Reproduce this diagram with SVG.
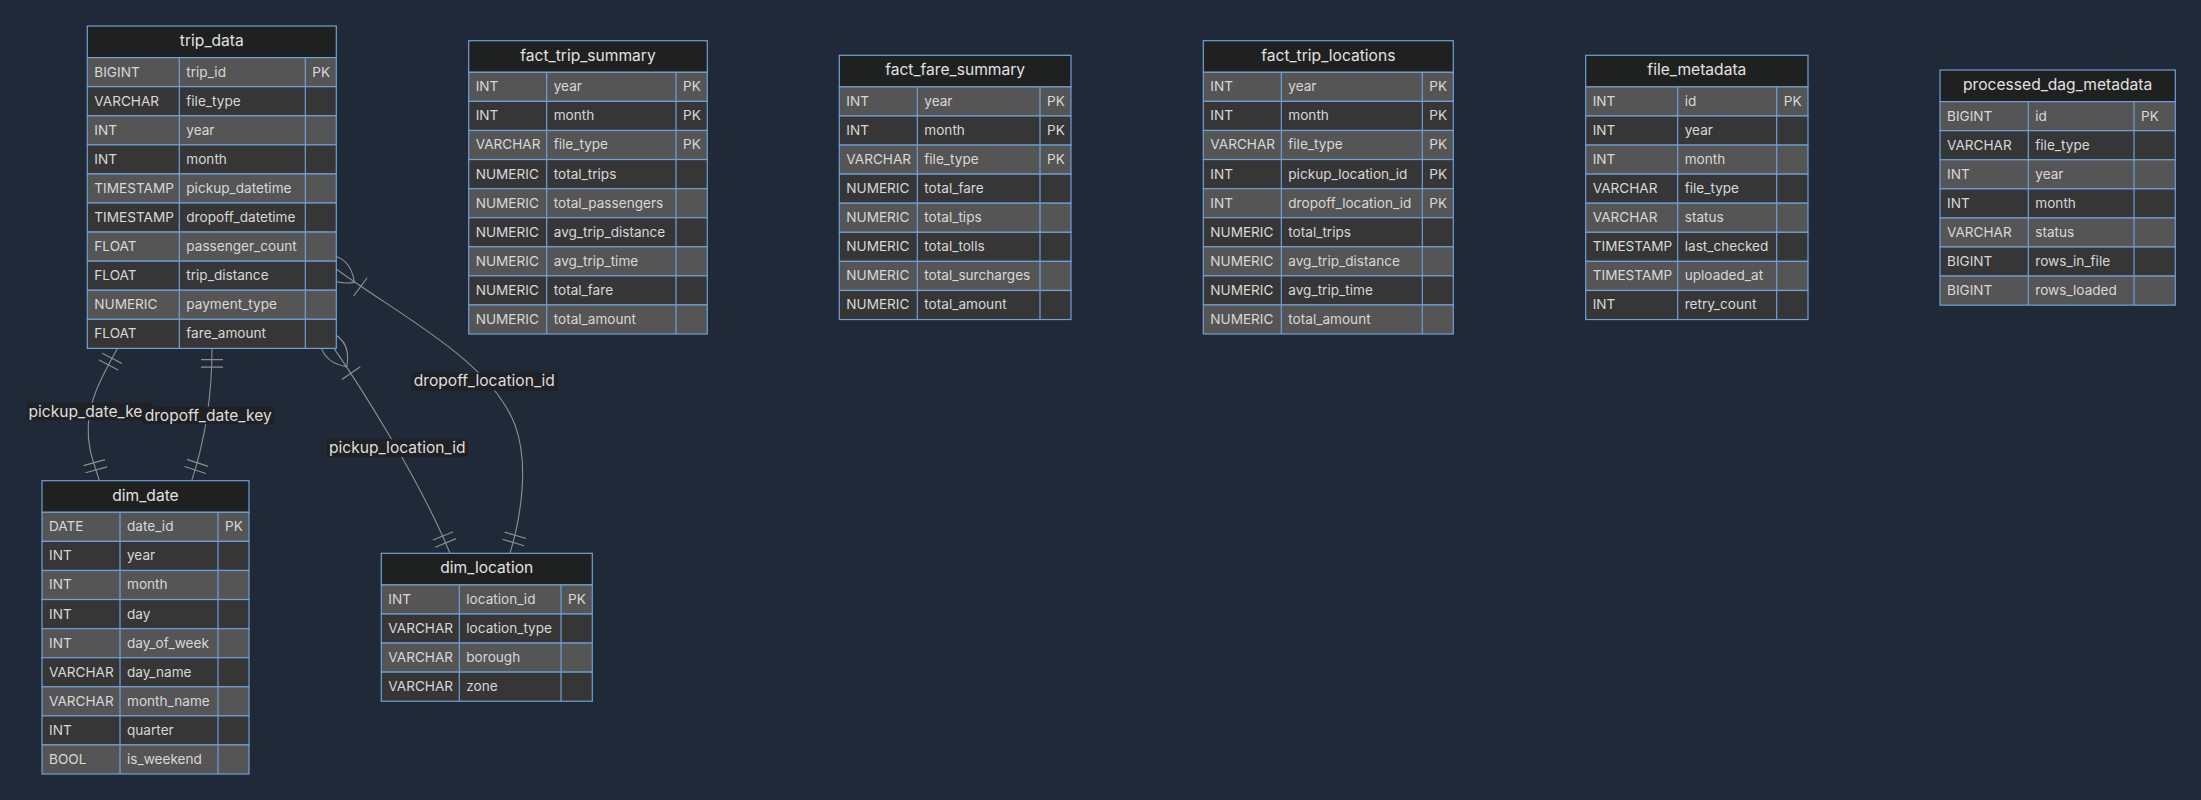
<svg xmlns="http://www.w3.org/2000/svg" width="2201" height="800" viewBox="0 0 2201 800">
<style>
.bg{fill:#1f2937}
.hdr{fill:#1f2020;stroke:#6fa0d8;stroke-width:1.2}
.r1{fill:#555555;stroke:#6fa0d8;stroke-width:1.2}
.r2{fill:#363636;stroke:#6fa0d8;stroke-width:1.2}
.ln{fill:none;stroke:#6fa0d8;stroke-width:1.2}
.t{font-family:Inter,"Noto Sans","Liberation Sans",sans-serif;font-size:13.6px;fill:#d8d8d8}
.h{font-family:Inter,"Noto Sans","Liberation Sans",sans-serif;font-size:15.6px;fill:#e2e2e2;text-anchor:middle}
.edge{fill:none;stroke:#8f8f8f;stroke-width:1.1}
.mk{fill:none;stroke:#8f8f8f;stroke-width:0.9}
.lbg{fill:#1f2124}
.lbl{font-family:Inter,"Noto Sans","Liberation Sans",sans-serif;font-size:15.6px;fill:#dedede;text-anchor:middle}
</style>
<defs>
<marker id="oneOrMoreStart" markerUnits="userSpaceOnUse" viewBox="0 0 45 36" refX="18" refY="18" markerWidth="56.25" markerHeight="45" orient="auto"><path class="mk" d="M0,18 Q18,0 36,18 Q18,36 0,18 M42,9 L42,27"/></marker>
<marker id="onlyOneStart" markerUnits="userSpaceOnUse" viewBox="0 0 18 18" refX="0" refY="9" markerWidth="22.5" markerHeight="22.5" orient="auto"><path class="mk" d="M9,0 L9,18 M15,0 L15,18"/></marker>
<marker id="onlyOneEnd" markerUnits="userSpaceOnUse" viewBox="0 0 18 18" refX="18" refY="9" markerWidth="22.5" markerHeight="22.5" orient="auto"><path class="mk" d="M3,0 L3,18 M9,0 L9,18"/></marker>
</defs>
<rect class="bg" x="0" y="0" width="2201" height="800"/>

<g id="connectors">
<path class="edge" d="M117.3,348.4 C105,372 90,395 88.3,425 C87,450 95,465 99.3,480.7" marker-start="url(#onlyOneStart)" marker-end="url(#onlyOneEnd)"/>
<path class="edge" d="M212,348.4 C212,400 205,440 191.7,480.7" marker-start="url(#onlyOneStart)" marker-end="url(#onlyOneEnd)"/>
<path class="edge" d="M334,348.4 C360,386 420,480 450,553.3" marker-start="url(#oneOrMoreStart)" marker-end="url(#onlyOneEnd)"/>
<path class="edge" d="M336.3,269 C400,316 490,360 515,425 C530,465 520,520 510,553.3" marker-start="url(#oneOrMoreStart)" marker-end="url(#onlyOneEnd)"/>
<rect class="lbg" x="26.7" y="402.7" width="126" height="17.5"/>
<text class="lbl" x="89.7" y="416.6">pickup_date_key</text>
<rect class="lbg" x="142.3" y="406.7" width="131.7" height="17.5"/>
<text class="lbl" x="208.2" y="420.8">dropoff_date_key</text>
<rect class="lbg" x="326.7" y="439.3" width="141" height="17.5"/>
<text class="lbl" x="397.2" y="452.6">pickup_location_id</text>
<rect class="lbg" x="411" y="372.7" width="146.7" height="18"/>
<text class="lbl" x="484.3" y="386.3">dropoff_location_id</text>
</g>

<g id="trip_data" transform="translate(87.3,26)">
<rect class="hdr" x="0" y="0" width="249" height="31.6"/>
<text class="h" x="124.5" y="20">trip_data</text>
<rect class="r1" x="0" y="31.6" width="249" height="29.08"/>
<rect class="r2" x="0" y="60.68" width="249" height="29.08"/>
<rect class="r1" x="0" y="89.76" width="249" height="29.08"/>
<rect class="r2" x="0" y="118.84" width="249" height="29.08"/>
<rect class="r1" x="0" y="147.92" width="249" height="29.08"/>
<rect class="r2" x="0" y="177" width="249" height="29.08"/>
<rect class="r1" x="0" y="206.08" width="249" height="29.08"/>
<rect class="r2" x="0" y="235.16" width="249" height="29.08"/>
<rect class="r1" x="0" y="264.24" width="249" height="29.08"/>
<rect class="r2" x="0" y="293.32" width="249" height="29.08"/>
<path class="ln" d="M92,31.6 V322.4 M218,31.6 V322.4"/>
<text class="t" x="7" y="50.6">BIGINT</text><text class="t" x="99" y="50.6">trip_id</text><text class="t" x="225" y="50.6">PK</text>
<text class="t" x="7" y="79.68">VARCHAR</text><text class="t" x="99" y="79.68">file_type</text>
<text class="t" x="7" y="108.76">INT</text><text class="t" x="99" y="108.76">year</text>
<text class="t" x="7" y="137.84">INT</text><text class="t" x="99" y="137.84">month</text>
<text class="t" x="7" y="166.92">TIMESTAMP</text><text class="t" x="99" y="166.92">pickup_datetime</text>
<text class="t" x="7" y="196">TIMESTAMP</text><text class="t" x="99" y="196">dropoff_datetime</text>
<text class="t" x="7" y="225.08">FLOAT</text><text class="t" x="99" y="225.08">passenger_count</text>
<text class="t" x="7" y="254.16">FLOAT</text><text class="t" x="99" y="254.16">trip_distance</text>
<text class="t" x="7" y="283.24">NUMERIC</text><text class="t" x="99" y="283.24">payment_type</text>
<text class="t" x="7" y="312.32">FLOAT</text><text class="t" x="99" y="312.32">fare_amount</text>
</g>

<g id="dim_date" transform="translate(42,480.7)">
<rect class="hdr" x="0" y="0" width="207" height="31.6"/>
<text class="h" x="103.5" y="20">dim_date</text>
<rect class="r1" x="0" y="31.6" width="207" height="29.08"/>
<rect class="r2" x="0" y="60.68" width="207" height="29.08"/>
<rect class="r1" x="0" y="89.76" width="207" height="29.08"/>
<rect class="r2" x="0" y="118.84" width="207" height="29.08"/>
<rect class="r1" x="0" y="147.92" width="207" height="29.08"/>
<rect class="r2" x="0" y="177" width="207" height="29.08"/>
<rect class="r1" x="0" y="206.08" width="207" height="29.08"/>
<rect class="r2" x="0" y="235.16" width="207" height="29.08"/>
<rect class="r1" x="0" y="264.24" width="207" height="29.08"/>
<path class="ln" d="M78,31.6 V293.32 M176,31.6 V293.32"/>
<text class="t" x="7" y="50.6">DATE</text><text class="t" x="85" y="50.6">date_id</text><text class="t" x="183" y="50.6">PK</text>
<text class="t" x="7" y="79.68">INT</text><text class="t" x="85" y="79.68">year</text>
<text class="t" x="7" y="108.76">INT</text><text class="t" x="85" y="108.76">month</text>
<text class="t" x="7" y="137.84">INT</text><text class="t" x="85" y="137.84">day</text>
<text class="t" x="7" y="166.92">INT</text><text class="t" x="85" y="166.92">day_of_week</text>
<text class="t" x="7" y="196">VARCHAR</text><text class="t" x="85" y="196">day_name</text>
<text class="t" x="7" y="225.08">VARCHAR</text><text class="t" x="85" y="225.08">month_name</text>
<text class="t" x="7" y="254.16">INT</text><text class="t" x="85" y="254.16">quarter</text>
<text class="t" x="7" y="283.24">BOOL</text><text class="t" x="85" y="283.24">is_weekend</text>
</g>

<g id="dim_location" transform="translate(381.3,553.3)">
<rect class="hdr" x="0" y="0" width="211" height="31.6"/>
<text class="h" x="105.5" y="20">dim_location</text>
<rect class="r1" x="0" y="31.6" width="211" height="29.08"/>
<rect class="r2" x="0" y="60.68" width="211" height="29.08"/>
<rect class="r1" x="0" y="89.76" width="211" height="29.08"/>
<rect class="r2" x="0" y="118.84" width="211" height="29.08"/>
<path class="ln" d="M78,31.6 V147.92 M179.7,31.6 V147.92"/>
<text class="t" x="7" y="50.6">INT</text><text class="t" x="85" y="50.6">location_id</text><text class="t" x="186.7" y="50.6">PK</text>
<text class="t" x="7" y="79.68">VARCHAR</text><text class="t" x="85" y="79.68">location_type</text>
<text class="t" x="7" y="108.76">VARCHAR</text><text class="t" x="85" y="108.76">borough</text>
<text class="t" x="7" y="137.84">VARCHAR</text><text class="t" x="85" y="137.84">zone</text>
</g>

<g id="fact_trip_summary" transform="translate(468.7,40.7)">
<rect class="hdr" x="0" y="0" width="238.6" height="31.6"/>
<text class="h" x="119.3" y="20">fact_trip_summary</text>
<rect class="r1" x="0" y="31.6" width="238.6" height="29.08"/>
<rect class="r2" x="0" y="60.68" width="238.6" height="29.08"/>
<rect class="r1" x="0" y="89.76" width="238.6" height="29.08"/>
<rect class="r2" x="0" y="118.84" width="238.6" height="29.08"/>
<rect class="r1" x="0" y="147.92" width="238.6" height="29.08"/>
<rect class="r2" x="0" y="177" width="238.6" height="29.08"/>
<rect class="r1" x="0" y="206.08" width="238.6" height="29.08"/>
<rect class="r2" x="0" y="235.16" width="238.6" height="29.08"/>
<rect class="r1" x="0" y="264.24" width="238.6" height="29.08"/>
<path class="ln" d="M78,31.6 V293.32 M207.3,31.6 V293.32"/>
<text class="t" x="7" y="50.6">INT</text><text class="t" x="85" y="50.6">year</text><text class="t" x="214.3" y="50.6">PK</text>
<text class="t" x="7" y="79.68">INT</text><text class="t" x="85" y="79.68">month</text><text class="t" x="214.3" y="79.68">PK</text>
<text class="t" x="7" y="108.76">VARCHAR</text><text class="t" x="85" y="108.76">file_type</text><text class="t" x="214.3" y="108.76">PK</text>
<text class="t" x="7" y="137.84">NUMERIC</text><text class="t" x="85" y="137.84">total_trips</text>
<text class="t" x="7" y="166.92">NUMERIC</text><text class="t" x="85" y="166.92">total_passengers</text>
<text class="t" x="7" y="196">NUMERIC</text><text class="t" x="85" y="196">avg_trip_distance</text>
<text class="t" x="7" y="225.08">NUMERIC</text><text class="t" x="85" y="225.08">avg_trip_time</text>
<text class="t" x="7" y="254.16">NUMERIC</text><text class="t" x="85" y="254.16">total_fare</text>
<text class="t" x="7" y="283.24">NUMERIC</text><text class="t" x="85" y="283.24">total_amount</text>
</g>

<g id="fact_fare_summary" transform="translate(839.3,55.3)">
<rect class="hdr" x="0" y="0" width="231.7" height="31.6"/>
<text class="h" x="115.85" y="20">fact_fare_summary</text>
<rect class="r1" x="0" y="31.6" width="231.7" height="29.08"/>
<rect class="r2" x="0" y="60.68" width="231.7" height="29.08"/>
<rect class="r1" x="0" y="89.76" width="231.7" height="29.08"/>
<rect class="r2" x="0" y="118.84" width="231.7" height="29.08"/>
<rect class="r1" x="0" y="147.92" width="231.7" height="29.08"/>
<rect class="r2" x="0" y="177" width="231.7" height="29.08"/>
<rect class="r1" x="0" y="206.08" width="231.7" height="29.08"/>
<rect class="r2" x="0" y="235.16" width="231.7" height="29.08"/>
<path class="ln" d="M78,31.6 V264.24 M200.7,31.6 V264.24"/>
<text class="t" x="7" y="50.6">INT</text><text class="t" x="85" y="50.6">year</text><text class="t" x="207.7" y="50.6">PK</text>
<text class="t" x="7" y="79.68">INT</text><text class="t" x="85" y="79.68">month</text><text class="t" x="207.7" y="79.68">PK</text>
<text class="t" x="7" y="108.76">VARCHAR</text><text class="t" x="85" y="108.76">file_type</text><text class="t" x="207.7" y="108.76">PK</text>
<text class="t" x="7" y="137.84">NUMERIC</text><text class="t" x="85" y="137.84">total_fare</text>
<text class="t" x="7" y="166.92">NUMERIC</text><text class="t" x="85" y="166.92">total_tips</text>
<text class="t" x="7" y="196">NUMERIC</text><text class="t" x="85" y="196">total_tolls</text>
<text class="t" x="7" y="225.08">NUMERIC</text><text class="t" x="85" y="225.08">total_surcharges</text>
<text class="t" x="7" y="254.16">NUMERIC</text><text class="t" x="85" y="254.16">total_amount</text>
</g>

<g id="fact_trip_locations" transform="translate(1203.3,40.7)">
<rect class="hdr" x="0" y="0" width="250" height="31.6"/>
<text class="h" x="125" y="20">fact_trip_locations</text>
<rect class="r1" x="0" y="31.6" width="250" height="29.08"/>
<rect class="r2" x="0" y="60.68" width="250" height="29.08"/>
<rect class="r1" x="0" y="89.76" width="250" height="29.08"/>
<rect class="r2" x="0" y="118.84" width="250" height="29.08"/>
<rect class="r1" x="0" y="147.92" width="250" height="29.08"/>
<rect class="r2" x="0" y="177" width="250" height="29.08"/>
<rect class="r1" x="0" y="206.08" width="250" height="29.08"/>
<rect class="r2" x="0" y="235.16" width="250" height="29.08"/>
<rect class="r1" x="0" y="264.24" width="250" height="29.08"/>
<path class="ln" d="M78,31.6 V293.32 M219,31.6 V293.32"/>
<text class="t" x="7" y="50.6">INT</text><text class="t" x="85" y="50.6">year</text><text class="t" x="226" y="50.6">PK</text>
<text class="t" x="7" y="79.68">INT</text><text class="t" x="85" y="79.68">month</text><text class="t" x="226" y="79.68">PK</text>
<text class="t" x="7" y="108.76">VARCHAR</text><text class="t" x="85" y="108.76">file_type</text><text class="t" x="226" y="108.76">PK</text>
<text class="t" x="7" y="137.84">INT</text><text class="t" x="85" y="137.84">pickup_location_id</text><text class="t" x="226" y="137.84">PK</text>
<text class="t" x="7" y="166.92">INT</text><text class="t" x="85" y="166.92">dropoff_location_id</text><text class="t" x="226" y="166.92">PK</text>
<text class="t" x="7" y="196">NUMERIC</text><text class="t" x="85" y="196">total_trips</text>
<text class="t" x="7" y="225.08">NUMERIC</text><text class="t" x="85" y="225.08">avg_trip_distance</text>
<text class="t" x="7" y="254.16">NUMERIC</text><text class="t" x="85" y="254.16">avg_trip_time</text>
<text class="t" x="7" y="283.24">NUMERIC</text><text class="t" x="85" y="283.24">total_amount</text>
</g>

<g id="file_metadata" transform="translate(1585.7,55.3)">
<rect class="hdr" x="0" y="0" width="222.3" height="31.6"/>
<text class="h" x="111.15" y="20">file_metadata</text>
<rect class="r1" x="0" y="31.6" width="222.3" height="29.08"/>
<rect class="r2" x="0" y="60.68" width="222.3" height="29.08"/>
<rect class="r1" x="0" y="89.76" width="222.3" height="29.08"/>
<rect class="r2" x="0" y="118.84" width="222.3" height="29.08"/>
<rect class="r1" x="0" y="147.92" width="222.3" height="29.08"/>
<rect class="r2" x="0" y="177" width="222.3" height="29.08"/>
<rect class="r1" x="0" y="206.08" width="222.3" height="29.08"/>
<rect class="r2" x="0" y="235.16" width="222.3" height="29.08"/>
<path class="ln" d="M92,31.6 V264.24 M191,31.6 V264.24"/>
<text class="t" x="7" y="50.6">INT</text><text class="t" x="99" y="50.6">id</text><text class="t" x="198" y="50.6">PK</text>
<text class="t" x="7" y="79.68">INT</text><text class="t" x="99" y="79.68">year</text>
<text class="t" x="7" y="108.76">INT</text><text class="t" x="99" y="108.76">month</text>
<text class="t" x="7" y="137.84">VARCHAR</text><text class="t" x="99" y="137.84">file_type</text>
<text class="t" x="7" y="166.92">VARCHAR</text><text class="t" x="99" y="166.92">status</text>
<text class="t" x="7" y="196">TIMESTAMP</text><text class="t" x="99" y="196">last_checked</text>
<text class="t" x="7" y="225.08">TIMESTAMP</text><text class="t" x="99" y="225.08">uploaded_at</text>
<text class="t" x="7" y="254.16">INT</text><text class="t" x="99" y="254.16">retry_count</text>
</g>

<g id="processed_dag_metadata" transform="translate(1940,70)">
<rect class="hdr" x="0" y="0" width="235.3" height="31.6"/>
<text class="h" x="117.65" y="20">processed_dag_metadata</text>
<rect class="r1" x="0" y="31.6" width="235.3" height="29.08"/>
<rect class="r2" x="0" y="60.68" width="235.3" height="29.08"/>
<rect class="r1" x="0" y="89.76" width="235.3" height="29.08"/>
<rect class="r2" x="0" y="118.84" width="235.3" height="29.08"/>
<rect class="r1" x="0" y="147.92" width="235.3" height="29.08"/>
<rect class="r2" x="0" y="177" width="235.3" height="29.08"/>
<rect class="r1" x="0" y="206.08" width="235.3" height="29.08"/>
<path class="ln" d="M88.3,31.6 V235.16 M194,31.6 V235.16"/>
<text class="t" x="7" y="50.6">BIGINT</text><text class="t" x="95.3" y="50.6">id</text><text class="t" x="201" y="50.6">PK</text>
<text class="t" x="7" y="79.68">VARCHAR</text><text class="t" x="95.3" y="79.68">file_type</text>
<text class="t" x="7" y="108.76">INT</text><text class="t" x="95.3" y="108.76">year</text>
<text class="t" x="7" y="137.84">INT</text><text class="t" x="95.3" y="137.84">month</text>
<text class="t" x="7" y="166.92">VARCHAR</text><text class="t" x="95.3" y="166.92">status</text>
<text class="t" x="7" y="196">BIGINT</text><text class="t" x="95.3" y="196">rows_in_file</text>
<text class="t" x="7" y="225.08">BIGINT</text><text class="t" x="95.3" y="225.08">rows_loaded</text>
</g>
</svg>
